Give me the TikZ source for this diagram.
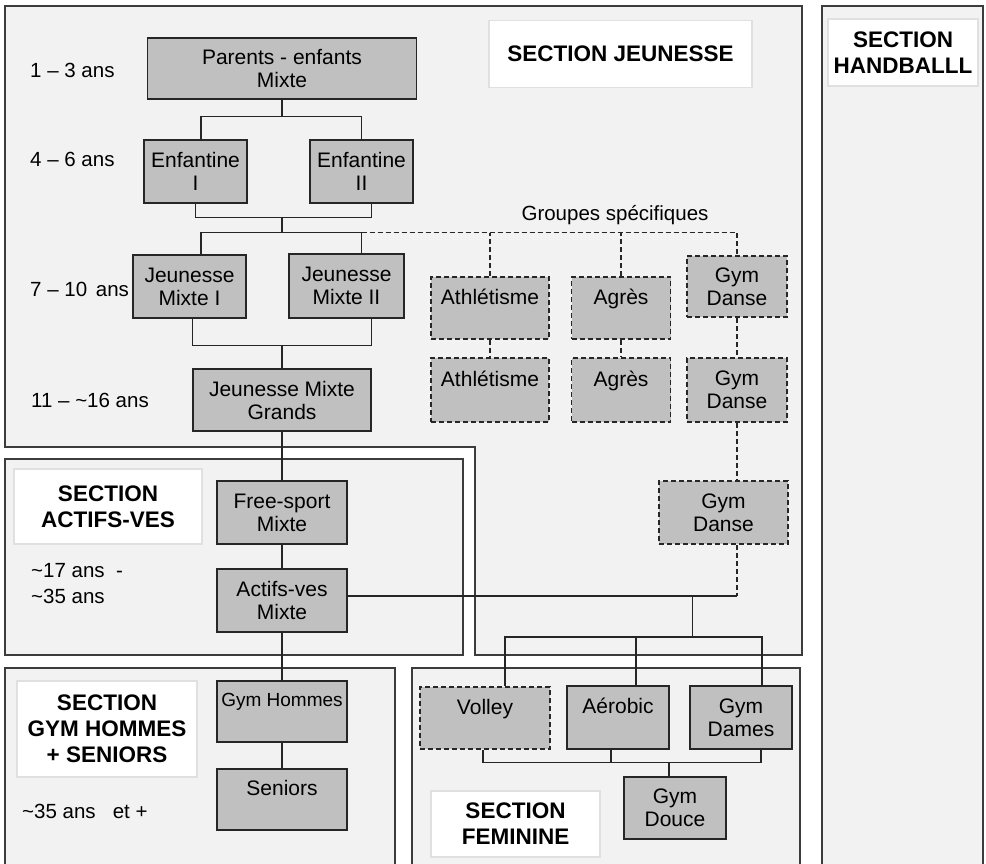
\documentclass[tikz,border=0pt]{standalone}
\usepackage{fontspec}
\setmainfont{Liberation Sans}
\usetikzlibrary{positioning}
\usetikzlibrary{calc}

\definecolor{fondsection}{HTML}{F2F2F2}
\definecolor{grisgroupe}{HTML}{C0C0C0}
\definecolor{traitsection}{HTML}{3C3C3C}
\definecolor{bordtitre}{HTML}{E0E0E0}

\tikzset{
  section/.style={draw=traitsection, line width=1.6pt, fill=fondsection},
  titre/.style={draw=bordtitre, line width=1.2pt, fill=white, inner sep=0pt, align=center, font=\fontsize{22.5}{26}\selectfont\bfseries},
  groupe/.style={draw=black!85, line width=1.6pt, fill=grisgroupe, inner sep=0pt, align=center, font=\fontsize{21}{23}\selectfont, minimum height=62pt},
  optionnel/.style={groupe, dash pattern=on 5pt off 3pt},
  lien/.style={line width=1.3pt, draw=black!85},
  tirets/.style={lien, dash pattern=on 5pt off 3pt},
  age/.style={anchor=west, inner sep=0pt, align=left, font=\fontsize{20.5}{26}\selectfont},
}

\begin{document}
\begin{tikzpicture}[x=1pt,y=-1pt]
\useasboundingbox (0,0) rectangle (986,863);

% Les sections
\draw[section] (5,6) -- (802,6) -- (802,655) -- (475,655) -- (475,447) -- (5,447) -- cycle;
\draw[section] (5,459) rectangle (463,655);
\draw[section] (5,668) rectangle (395,872);
\draw[section] (412,668) rectangle (800,872);
\draw[section] (822,6) rectangle (983,872);

% Titres
\node[titre, minimum width=263pt, minimum height=67pt] (tjeunesse) at (620.5,54) {SECTION JEUNESSE};
\node[titre, minimum width=150pt, minimum height=67pt] (thandball) at (903,52.5) {SECTION\\HANDBALLL};
\node[titre, minimum width=188pt, minimum height=75pt] (tactifs) at (108,506.5) {SECTION\\ACTIFS-VES};
\node[titre, minimum width=180pt, minimum height=96pt] (thommes) at (107,729) {SECTION\\GYM HOMMES\\+ SENIORS};
\node[titre, minimum width=169pt, minimum height=66pt] (tfeminine) at (515.5,824) {SECTION\\FEMININE};

% Ages
\node[age] (a1) at (30,70) {1 -- 3 ans};
\node[age] (a2) at (30,159) {4 -- 6 ans};
\node[age] (a3) at (30,289) {7 -- 10\hspace{3pt} ans};
\node[age] (a4) at (31,400) {11 -- \textasciitilde16 ans};
\node[age] (a5) at (31,584) {\textasciitilde17 ans\ \ -\\\textasciitilde35 ans};
\node[age] (a6) at (22,811) {\textasciitilde35 ans\ \ \ et +};
\node[font=\fontsize{20.5}{23}\selectfont] (groupes) at (615,215) {Groupes spécifiques};

% Groupes
\node[groupe, minimum width=269pt, minimum height=61pt] (parents) at (282,68.5) {Parents - enfants\\Mixte};
\node[groupe, minimum width=103pt, minimum height=63pt] (enf1) at (195.5,171.5) {Enfantine\\I};
\node[groupe, minimum width=103pt, minimum height=63pt] (enf2) at (361.5,171.5) {Enfantine\\II};
\node[groupe, minimum width=113pt, minimum height=63pt] (jm1) at (189.5,286.5) {Jeunesse\\Mixte I};
\node[groupe, minimum width=115pt, minimum height=64pt] (jm2) at (346.5,286) {Jeunesse\\Mixte II};
\node[groupe, minimum width=178pt] (grands) at (282,400) {Jeunesse Mixte\\Grands};
\node[optionnel, minimum width=118pt] (athl1) at (490,308) {Athlétisme\\\mbox{}};
\node[optionnel, minimum width=99pt] (agres1) at (621,308) {Agrès\\\mbox{}};
\node[optionnel, minimum width=100pt, minimum height=61pt] (danse1) at (737,286.5) {Gym\\Danse};
\node[optionnel, minimum width=118pt, minimum height=64pt] (athl2) at (490,390) {Athlétisme\\\mbox{}};
\node[optionnel, minimum width=99pt, minimum height=64pt] (agres2) at (621,390) {Agrès\\\mbox{}};
\node[optionnel, minimum width=100pt, minimum height=64pt] (danse2) at (737,390) {Gym\\Danse};
\node[optionnel, minimum width=129pt, minimum height=63pt] (danse3) at (723.5,512.5) {Gym\\Danse};
\node[groupe, minimum width=130pt, minimum height=63pt] (free) at (282,512.5) {Free-sport\\Mixte};
\node[groupe, minimum width=130pt, minimum height=63pt] (actifs) at (282,600.5) {Actifs-ves\\Mixte};
\node[groupe, minimum width=130pt, minimum height=61pt, font=\fontsize{19}{23}\selectfont] (gymh) at (282,711.5) {Gym Hommes\\\mbox{}};
\node[groupe, minimum width=130pt, minimum height=61pt] (seniors) at (282,799.5) {Seniors\\\mbox{}};
\node[optionnel, minimum width=130pt] (volley) at (485,718) {Volley\\\mbox{}};
\node[groupe, minimum width=102pt, minimum height=63pt] (aerobic) at (618,717.5) {Aérobic\\\mbox{}};
\node[groupe, minimum width=102pt, minimum height=63pt] (dames) at (741,717.5) {Gym\\Dames};
\node[groupe, minimum width=102pt] (douce) at (675,808) {Gym\\Douce};

% Liaisons jeunesse
\path (parents.south) ++(0,17) coordinate (pe) ++(0,101) coordinate (eb) ++(0,15) coordinate (jt);
\path (grands.north) ++(0,-23) coordinate (mb);
\draw[lien] (parents.south) -- (pe);
\draw[lien] ([xshift=5.5pt]enf1.north) |- (pe) -| (enf2.north);
\draw[lien] (enf1.south) |- (eb) -| (enf2.south -| grands.east);
\draw[lien] (eb) -- (jt);
\draw[lien] ([xshift=11.5pt]jm1.north) |- (jt) -| (jm2.north -| enf2.north);
\draw[lien] (jm1.south -| grands.west) |- (mb) -| (jm2.south -| grands.east);
\draw[lien] (mb) -- (grands.north);

% Groupes specifiques
\draw[tirets] (enf2 |- jt) -| (danse1.north);
\draw[tirets] (athl1.north) -- (athl1 |- jt);
\draw[tirets] (agres1.north) -- (agres1 |- jt);
\draw[tirets] (athl1.south) -- (athl2.north);
\draw[tirets] (agres1.south) -- (agres2.north);
\draw[tirets] (danse1.south) -- (danse2.north);
\draw[tirets] (danse2.south) -- (danse3.north -| danse2);

% Actifs et feminine
\coordinate (ag) at ([yshift=4.5pt]actifs.east);
\path (ag) ++(344.5,0) coordinate (fh) ++(0,41) coordinate (fb);
\path (douce.north) ++(-6,-14) coordinate (db);
\draw[tirets] (danse3.south -| danse2) -- (danse2 |- ag);
\draw[lien] (ag) -- (danse2 |- ag);
\draw[lien] (fh) -- (fb);
\draw[lien] ([xshift=20pt]volley.north) |- (fb) -| ([xshift=21pt]dames.north);
\draw[lien] ([xshift=18pt]aerobic.north) |- (fb);
\draw[lien] ([xshift=-2pt]volley.south) |- (db) -| ([xshift=20pt]dames.south);
\draw[lien] ([xshift=-7pt]aerobic.south) |- (db);
\draw[lien] (db) -- (db |- douce.north);

% Colonne centrale
\draw[lien] (grands.south) -- (free.north);
\draw[lien] (free.south) -- (actifs.north);
\draw[lien] (actifs.south) -- (gymh.north);
\draw[lien] (gymh.south) -- (seniors.north);
\end{tikzpicture}
\end{document}
